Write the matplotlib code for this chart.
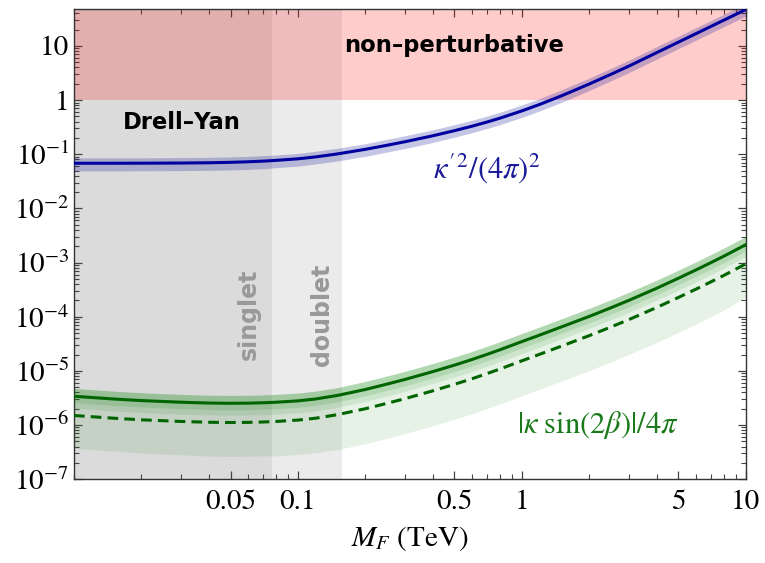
import numpy as np
import matplotlib
matplotlib.use("Agg")
import matplotlib.pyplot as plt
from matplotlib.ticker import FixedLocator, FixedFormatter

plt.rcParams["font.family"] = ["STIXGeneral", "DejaVu Sans"]
plt.rcParams["mathtext.fontset"] = "stix"

# --- data (log10 of the coupling) ---
mass = [0.01, 0.015, 0.02, 0.03, 0.04, 0.05, 0.06, 0.07, 0.08, 0.1, 0.12, 0.15, 0.2, 0.25, 0.3, 0.4,
        0.5, 0.6, 0.7, 0.8, 1, 1.2, 1.5, 2, 2.5, 3, 4, 5, 6, 7, 8, 10]

# kappa'^2/(4 pi)^2
kp_log = [-1.167, -1.167, -1.166, -1.163, -1.158, -1.150, -1.140, -1.128, -1.114, -1.085, -1.050, -0.995,
          -0.910, -0.835, -0.770, -0.660, -0.565, -0.482, -0.405, -0.333, -0.200, -0.081, 0.077, 0.297,
          0.476, 0.626, 0.876, 1.070, 1.228, 1.362, 1.478, 1.672]
kp_up = [0.10, 0.10, 0.10, 0.10, 0.10, 0.10, 0.10, 0.10, 0.10, 0.10, 0.105, 0.105, 0.105, 0.11, 0.11, 0.11,
         0.11, 0.11, 0.11, 0.11, 0.11, 0.11, 0.11, 0.11, 0.11, 0.11, 0.11, 0.11, 0.11, 0.11, 0.11, 0.11]
kp_dn = [0.14, 0.14, 0.14, 0.14, 0.14, 0.14, 0.14, 0.14, 0.135, 0.135, 0.13, 0.13, 0.13, 0.125, 0.125, 0.125,
         0.12, 0.12, 0.12, 0.12, 0.12, 0.12, 0.12, 0.12, 0.12, 0.12, 0.12, 0.12, 0.12, 0.12, 0.12, 0.12]

# |kappa sin(2 beta)|/4 pi
ks_log = [-5.470, -5.520, -5.550, -5.580, -5.595, -5.600, -5.597, -5.590, -5.580, -5.555, -5.520, -5.455,
          -5.345, -5.245, -5.160, -5.015, -4.895, -4.790, -4.695, -4.610, -4.460, -4.340, -4.190, -3.995,
          -3.835, -3.700, -3.475, -3.290, -3.135, -3.000, -2.880, -2.670]
ks_dash_log = [-5.825, -5.875, -5.905, -5.935, -5.950, -5.955, -5.952, -5.945, -5.935, -5.910, -5.875, -5.810,
               -5.700, -5.600, -5.515, -5.370, -5.250, -5.145, -5.050, -4.965, -4.815, -4.695, -4.545, -4.350,
               -4.190, -4.055, -3.830, -3.645, -3.490, -3.355, -3.235, -3.025]
# band edges, offsets from the solid line in decades
ks_top = [0.145, 0.145, 0.145, 0.145, 0.145, 0.145, 0.145, 0.145, 0.145, 0.145, 0.145, 0.145, 0.15, 0.15, 0.15, 0.15,
          0.15, 0.15, 0.15, 0.15, 0.15, 0.15, 0.15, 0.15, 0.15, 0.15, 0.15, 0.15, 0.15, 0.15, 0.15, 0.15]
ks_mid = [-0.12, -0.12, -0.12, -0.12, -0.12, -0.12, -0.12, -0.12, -0.12, -0.12, -0.12, -0.12, -0.12, -0.12, -0.12, -0.12,
          -0.12, -0.12, -0.12, -0.12, -0.12, -0.12, -0.12, -0.12, -0.12, -0.12, -0.12, -0.12, -0.12, -0.12, -0.12, -0.12]
ks_stripe = [-0.22, -0.22, -0.22, -0.22, -0.22, -0.22, -0.22, -0.22, -0.22, -0.22, -0.22, -0.22, -0.22, -0.22, -0.22, -0.22,
             -0.22, -0.22, -0.22, -0.22, -0.22, -0.22, -0.22, -0.22, -0.22, -0.22, -0.22, -0.22, -0.22, -0.22, -0.22, -0.22]
ks_bottom = [-0.96, -0.96, -0.97, -0.97, -0.98, -0.98, -0.98, -0.98, -0.99, -0.99, -0.99, -1.0, -1.0, -1.0, -1.0, -1.0,
             -1.0, -1.0, -1.0, -1.0, -1.0, -1.0, -1.0, -1.0, -1.0, -1.0, -1.0, -1.0, -1.0, -1.0, -0.99, -0.97]

# excluded regions
singlet_bound = 0.0766
doublet_bound = 0.157
pert_limit = 1.0

x_major = [0.05, 0.1, 0.5, 1, 5, 10]
x_major_labels = ["0.05", "0.1", "0.5", "1", "5", "10"]
y_major = [1e-7, 1e-6, 1e-5, 1e-4, 1e-3, 1e-2, 1e-1, 1, 10]
y_major_labels = [r"$10^{-7}$", r"$10^{-6}$", r"$10^{-5}$", r"$10^{-4}$", r"$10^{-3}$",
                  r"$10^{-2}$", r"$10^{-1}$", "1", "10"]

xmin, xmax = 0.01, 10
ymin, ymax = 1e-7, 48

kp = np.array(kp_log)
ks = np.array(ks_log)

fig = plt.figure(figsize=(7.65, 5.63), dpi=100)
ax = fig.add_axes([0.0967, 0.149, 0.8783, 0.835])
ax.set_xscale("log")
ax.set_yscale("log")
ax.set_xlim(xmin, xmax)
ax.set_ylim(ymin, ymax)

# shaded Drell-Yan bounds (two overlapping translucent layers)
ax.axvspan(xmin, doublet_bound, color="#888888", alpha=0.16, lw=0, zorder=1)
ax.axvspan(xmin, singlet_bound, color="#888888", alpha=0.16, lw=0, zorder=1)
# non-perturbative region
ax.axhspan(pert_limit, ymax, color="red", alpha=0.2, lw=0, zorder=2)

# green bands
green = (0.0, 0.5, 0.0)
ax.fill_between(mass, 10 ** (ks + ks_stripe), 10 ** (ks + ks_bottom), color=green, alpha=0.1, lw=0, zorder=3)
ax.fill_between(mass, 10 ** (ks + ks_mid), 10 ** (ks + ks_stripe), color=green, alpha=0.2, lw=0, zorder=3)
ax.fill_between(mass, 10 ** (ks + ks_top), 10 ** (ks + ks_mid), color=green, alpha=0.3, lw=0, zorder=3)
ax.plot(mass, 10 ** ks, color="#006400", lw=2.2, zorder=5)
ax.plot(mass, 10 ** np.array(ks_dash_log), color="#006400", lw=2.2, dashes=(3.5, 2), zorder=5)

# blue band
ax.fill_between(mass, 10 ** (kp + kp_up), 10 ** (kp - kp_dn), color=(0.1, 0.1, 0.6), alpha=0.25,
                lw=0, zorder=3)
ax.plot(mass, 10 ** kp, color="#0000a0", lw=2.2, zorder=5)

# labels inside
ax.text(0.5, 10, "non–perturbative", family="DejaVu Sans", weight="bold", fontsize=16.3,
        ha="center", va="center", zorder=6)
ax.text(0.0303, 0.39, "Drell–Yan", family="DejaVu Sans", weight="bold", fontsize=16.3,
        ha="center", va="center", zorder=6)
ax.text(0.060, 1.1e-4, "singlet", family="DejaVu Sans", weight="bold", fontsize=17,
        color="#999999", rotation=90, ha="center", va="center", zorder=6)
ax.text(0.128, 1.1e-4, "doublet", family="DejaVu Sans", weight="bold", fontsize=17,
        color="#999999", rotation=90, ha="center", va="center", zorder=6)
ax.text(0.70, 0.055, r"$\kappa'^2/(4\pi)^2$", color="#1a1a99", fontsize=22,
        ha="center", va="center", zorder=6)
ax.text(2.18, 1.0e-6, r"$|\kappa\ \mathrm{sin}(2\beta)|/4\pi$", color="#1a7a1a", fontsize=22,
        ha="center", va="center", zorder=6)

# ticks
ax.xaxis.set_major_locator(FixedLocator(x_major))
ax.xaxis.set_major_formatter(FixedFormatter(x_major_labels))
x_minor = [m * d for d in (0.01, 0.1, 1) for m in range(1, 10)]
ax.xaxis.set_minor_locator(FixedLocator(x_minor))
ax.yaxis.set_major_locator(FixedLocator(y_major))
ax.yaxis.set_major_formatter(FixedFormatter(y_major_labels))
y_minor = [m * 10.0 ** e for e in range(-7, 2) for m in range(2, 10)]
ax.yaxis.set_minor_locator(FixedLocator(y_minor))
ax.xaxis.set_minor_formatter(FixedFormatter([]))
ax.yaxis.set_minor_formatter(FixedFormatter([]))

ax.tick_params(which="both", direction="in", top=True, right=True, color="#444444",
               labelsize=21)
ax.tick_params(which="major", length=6, width=0.9)
ax.tick_params(which="minor", length=3.5, width=0.8)
ax.tick_params(axis="x", pad=8)
for s in ax.spines.values():
    s.set_color("#333333")
    s.set_linewidth(1.0)

ax.set_xlabel(r"$M_F$ (TeV)", fontsize=21, labelpad=6)

fig.savefig("out.png", dpi=100)
